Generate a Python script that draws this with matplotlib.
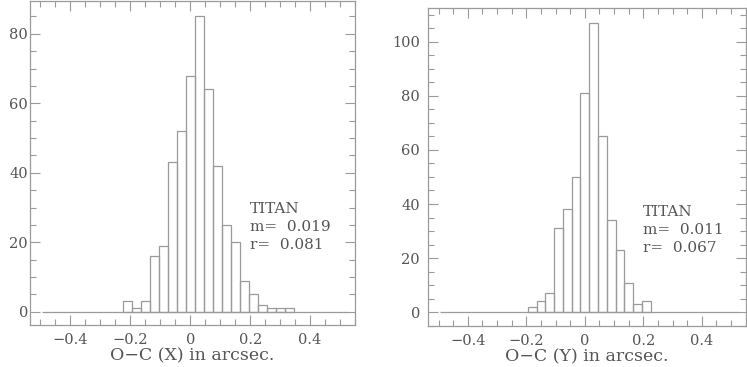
import numpy as np
import matplotlib.pyplot as plt
from matplotlib.ticker import MultipleLocator

# histogram data, bins of 0.03 arcsec
bin_width = 0.03
hist_lo, hist_hi = -0.495, 0.525
first_center_x = -0.21
counts_x = [3, 1, 3, 16, 19, 43, 52, 68, 85, 64, 42, 25, 20, 9, 5, 2, 1, 1, 1]
first_center_y = -0.18
counts_y = [2, 4, 7, 31, 38, 50, 81, 107, 65, 34, 23, 11, 3, 4]

labels = ['O\u2212C (X) in arcsec.', 'O\u2212C (Y) in arcsec.']
stats = [('0.019', '0.081'), ('0.011', '0.067')]

line_col = '#9a9a9a'
text_col = '#555555'
plt.rcParams['font.family'] = ['DejaVu Serif']
plt.rcParams['font.size'] = 10.5

fig = plt.figure(figsize=(7.47, 3.67), dpi=100)
ax1 = fig.add_axes([30 / 747, 1 - 325 / 367, 325 / 747, 324.5 / 367])
ax2 = fig.add_axes([428.3 / 747, 1 - 326 / 367, 317.4 / 747, 317.7 / 367])

panels = [
    (ax1, first_center_x, counts_x, (-3.8, 89.6), labels[0], stats[0], (250, 209), 1.5),
    (ax2, first_center_y, counts_y, (-5.06, 112.3), labels[1], stats[1], (643, 212), 6),
]

for ax, c0, counts, ylim, xlabel, (m, r), (tx, ty), ypad in panels:
    centers = c0 + bin_width * np.arange(len(counts))
    ax.hlines(0, hist_lo, hist_hi, color=line_col, lw=0.9)
    ax.bar(centers, counts, width=bin_width, fill=False, edgecolor=line_col, linewidth=0.9)
    ax.set_xlim(-0.535, 0.55)
    ax.set_ylim(*ylim)
    ax.xaxis.set_major_locator(MultipleLocator(0.2))
    ax.xaxis.set_minor_locator(MultipleLocator(0.05))
    ax.yaxis.set_major_locator(MultipleLocator(20))
    ax.yaxis.set_minor_locator(MultipleLocator(5))
    ax.xaxis.set_major_formatter(plt.FuncFormatter(lambda v, p: '0' if abs(v) < 1e-9 else f'{v:.1f}'.replace('-', '\u2212')))
    ax.tick_params(which='both', direction='in', top=True, right=True, color=line_col,
                   labelcolor=text_col, width=0.8)
    ax.tick_params(which='major', length=7.5)
    ax.tick_params(which='minor', length=4)
    ax.tick_params(axis='x', pad=6)
    ax.tick_params(axis='y', pad=ypad)
    for s in ax.spines.values():
        s.set_color(line_col)
        s.set_linewidth(0.9)
    ax.set_xlabel(xlabel, color=text_col, labelpad=0, fontsize=12.5)
    # annotation in pixel position of the figure
    fx = tx / 747
    fig.text(fx, 1 - ty / 367, 'TITAN', color=text_col, va='center', fontsize=11)
    fig.text(fx, 1 - (ty + 18) / 367, f'm=  {m}', color=text_col, va='center', fontsize=11)
    fig.text(fx, 1 - (ty + 36) / 367, f'r=  {r}', color=text_col, va='center', fontsize=11)

fig.savefig('out.png', dpi=100)
